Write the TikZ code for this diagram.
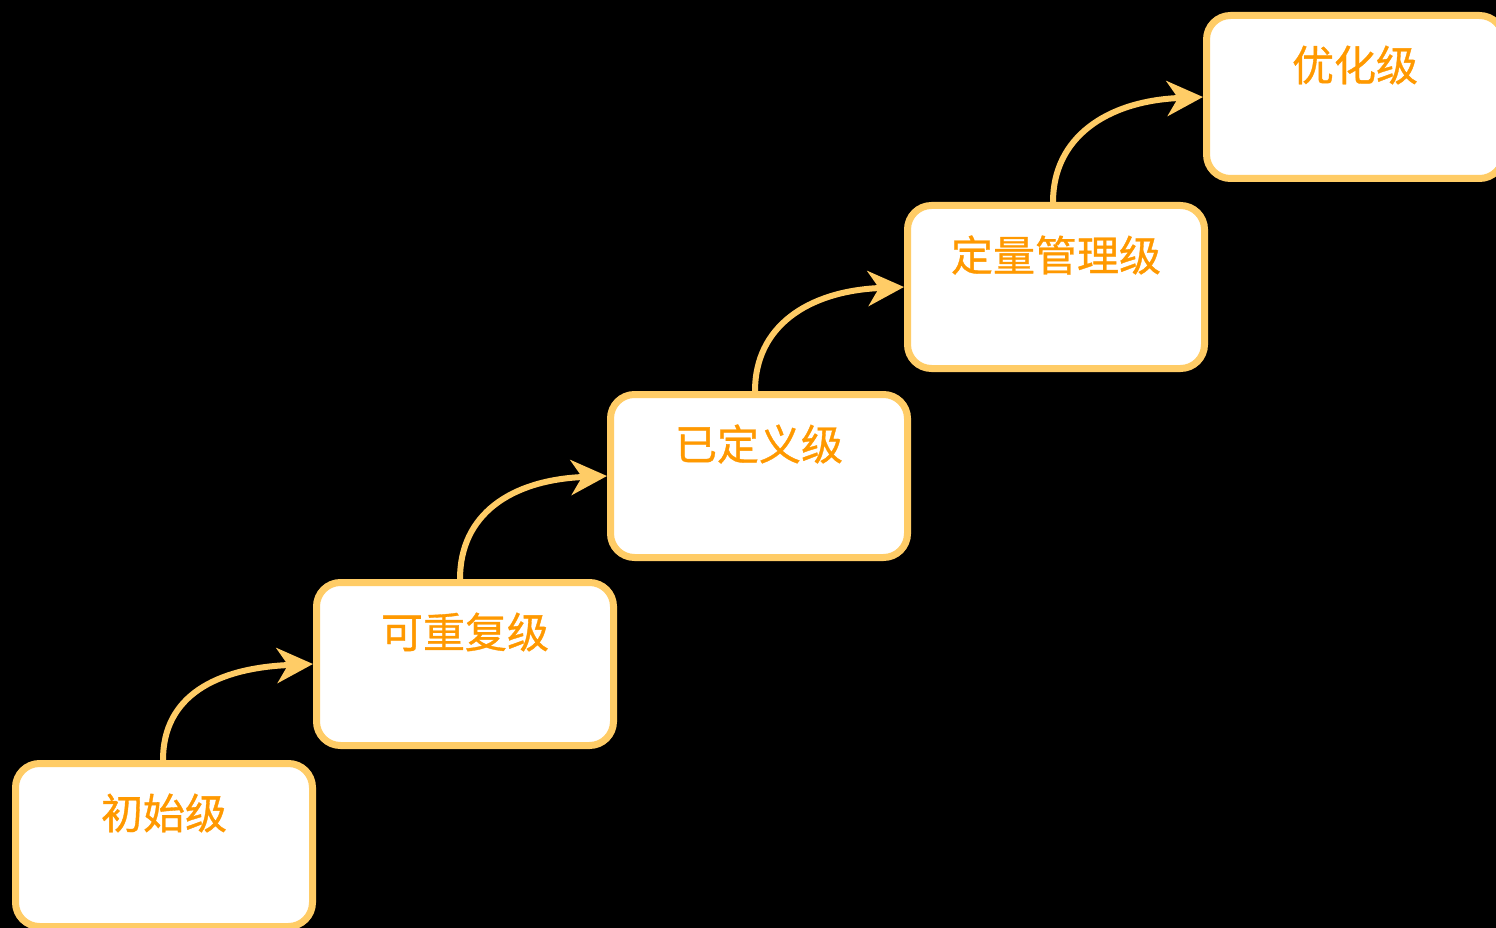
\documentclass[tikz,border=0pt]{standalone}
\usepackage{fontspec}
\newfontfamily\cjk[FakeBold=0.8]{Noto Sans CJK SC}
\usetikzlibrary{arrows.meta}
\definecolor{boxline}{HTML}{FFCC66}
\definecolor{txt}{HTML}{FF9900}
\tikzset{
  stage/.style={rectangle, draw=boxline, fill=white, line width=7pt, rounded corners=24pt,
    minimum width=297pt, minimum height=163pt, inner sep=0pt, anchor=north west},
  lbl/.style={text=txt, font=\cjk\fontsize{42}{48}\selectfont, inner sep=0pt},
  flow/.style={draw=boxline, line width=6pt,
    -{Stealth[length=36pt, width=35pt, inset=11pt]}}
}
\begin{document}
\begin{tikzpicture}[x=1pt, y=-1pt]
\fill[black] (0,0) rectangle (1496,928);
\useasboundingbox (0,0) rectangle (1496,928);
\clip (0,0) rectangle (1496,928);
\node[stage] (b1) at (12,760) {};
\node[stage] (b2) at (313,579) {};
\node[stage] (b3) at (607,391) {};
\node[stage] (b4) at (904,202) {};
\node[stage] (b5) at (1203,12) {};
\node[lbl] (t1) at ([yshift=-53pt]b1.north) {初始级};
\node[lbl] (t2) at ([yshift=-53pt]b2.north) {可重复级};
\node[lbl] (t3) at ([yshift=-53pt]b3.north) {已定义级};
\node[lbl] (t4) at ([yshift=-53pt]b4.north) {定量管理级};
\node[lbl] (t5) at ([yshift=-53pt]b5.north) {优化级};
\draw[flow] ([xshift=-1pt]b1.north) .. controls +(0,-64) and +(-97,4) .. (b2.west);
\draw[flow] ([xshift=-5pt]b2.north) .. controls +(0,-64) and +(-97,4) .. (b3.west);
\draw[flow] ([xshift=-4pt]b3.north) .. controls +(0,-64) and +(-97,4) .. (b4.west);
\draw[flow] ([xshift=-3pt]b4.north) .. controls +(0,-64) and +(-97,4) .. (b5.west);
\end{tikzpicture}
\end{document}
